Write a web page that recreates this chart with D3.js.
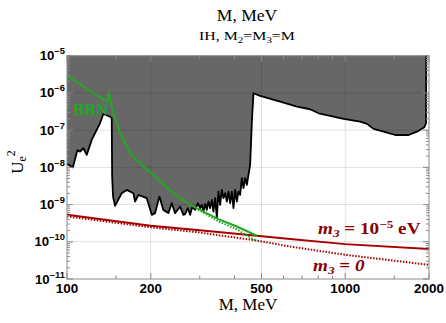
<!DOCTYPE html>
<html>
<head>
<meta charset="utf-8">
<script src="https://d3js.org/d3.v7.min.js"></script>
<style>
  body { margin: 0; background: #fff; }
  svg { display: block; }
</style>
</head>
<body>
<div id="vis"></div>
<script>
// axis ticks
var xTicks = [100, 200, 500, 1000, 2000];
var xMinorTicks = [150, 300, 400, 600, 700, 800, 900, 1500];
var yTicks = [-11, -10, -9, -8, -7, -6, -5]; // exponents of 10

// excluded region, lower boundary (M in MeV, Ue^2)
var exclM = [100, 105, 109, 111.4, 114.5, 117.7, 122.7, 131.4, 135.1, 142.8, 144.8, 145.3, 146.4, 148.8,
  157.3, 163.9, 173.2, 175.7, 180.5, 193.5, 201.7, 207.3, 214.8, 222, 231.4, 238, 244.6, 255, 262,
  265.8, 271.8, 277, 282.3, 288.7, 295.3, 300.9, 305.2, 309.2, 313.6, 318.1, 322.3, 326.9, 331.5,
  336, 340.7, 345.6, 350.1, 355.1, 360.1, 364.9, 370.1, 375.4, 380.4, 385.8, 391.3, 396.5, 402.1,
  407.8, 413.2, 419.1, 425, 430.7, 436.8, 443, 449, 455.2, 462, 468,
  494.6, 583.6, 670.4, 748, 802, 883, 986, 1132, 1197, 1264, 1373, 1513, 1690, 1811, 1924, 1951, 1955];
var exclU = [1.24e-8, 1.0e-8, 2.9e-8, 2.65e-8, 3.27e-8, 2.16e-8, 5.46e-8, 1.53e-7, 2.72e-7, 2.3e-7, 2.08e-7, 5.65e-9, 1.64e-9, 9.2e-10,
  2.02e-9, 2.48e-9, 2.02e-9, 1.2e-9, 1.82e-9, 1.49e-9, 5.3e-10, 5.9e-10, 1.64e-9, 7.2e-10, 5.9e-10, 1.09e-9, 5.9e-10, 8.8e-10, 5.3e-10,
  5.5e-10, 8.0e-10, 5.3e-10, 8.8e-10, 7.2e-10, 1.09e-9, 8.0e-10, 9.8e-10, 6.5e-10, 1.03e-9, 7.2e-10, 1.2e-9, 8.0e-10, 1.34e-9,
  6.5e-10, 1.49e-9, 4.4e-10, 2.23e-9, 9.8e-10, 2.48e-9, 1.49e-9, 2.02e-9, 1.2e-9, 2.23e-9, 1.09e-9, 2.23e-9, 8.0e-10, 2.48e-9,
  1.2e-9, 2.23e-9, 1.82e-9, 5.1e-9, 2.75e-9, 5.1e-9, 3.4e-9, 6.3e-9, 1.16e-8, 1.88e-7, 9.8e-7,
  8.28e-7, 5.82e-7, 4.27e-7, 3.64e-7, 2.84e-7, 2.41e-7, 2.0e-7, 1.69e-7, 1.47e-7, 1.08e-7, 9.1e-8, 7.4e-8, 7.4e-8, 9.1e-8, 1.2e-7, 1.53e-7, 1e-5];

// BBN bound
var bbnM = [100, 139.3, 141, 146.8, 155.1, 168.6, 185.7, 210.2, 241.2, 277, 300.9, 350.1, 407.8, 481.3];
var bbnU = [2.9e-6, 5.7e-7, 1.08e-6, 2.84e-7, 8.3e-8, 2.4e-8, 1.16e-8, 5.1e-9, 2.02e-9, 9.8e-10, 7.2e-10, 4.05e-10, 2.57e-10, 1.45e-10];
var bbnDotM = [290, 301, 350, 408, 466, 481];
var bbnDotU = [8.0e-10, 6.8e-10, 3.54e-10, 2.16e-10, 1.16e-10, 1.08e-10];

// seesaw lines
var m3SmallM = [100, 200, 300, 481, 634, 1000, 2000];
var m3SmallU = [5.3e-10, 2.7e-10, 2.05e-10, 1.45e-10, 1.18e-10, 8.65e-11, 6.35e-11];
var m3ZeroM = [100, 200, 292, 481, 634, 1000, 2000];
var m3ZeroU = [4.8e-10, 2.45e-10, 1.82e-10, 1.08e-10, 7.45e-11, 4.47e-11, 2.4e-11];

var width = 446, height = 323;
var pLeft = 67, pRight = 429, pTop = 55.7, pBottom = 279;
var serif = "'Liberation Serif', 'Times New Roman', serif";
var sans = "'Liberation Sans', Arial, sans-serif";
var red = "#a80000", darkred = "#8a0000", green = "#22a822";

var svg = d3.select("#vis").append("svg")
  .attr("width", width)
  .attr("height", height);

var x = d3.scaleLog().domain([100, 2000]).range([pLeft, pRight]);
var y = d3.scaleLog().domain([1e-11, 1e-5]).range([pBottom, pTop]);

function pts(ms, us) { return ms.map(function (m, i) { return [m, us[i]]; }); }
var line = d3.line().x(function (d) { return x(d[0]); }).y(function (d) { return y(d[1]); });

// text that is a bit wider than the font (the source picture is stretched sideways)
function wideText(px, py, sx) {
  return svg.append("g").attr("transform", "translate(" + px + "," + py + ") scale(" + sx + ",1)")
    .append("text");
}

// excluded region
var excl = pts(exclM, exclU);
var poly = [[100, 1e-5]].concat(excl).concat([[1955, 1e-5]]);
svg.append("path").attr("d", line(poly) + "Z").attr("fill", "#676767");

// grid
var g = svg.append("g").attr("stroke", "rgba(0,0,0,0.12)").attr("stroke-width", 1);
xTicks.slice(1, -1).forEach(function (t) {
  g.append("line").attr("x1", x(t)).attr("x2", x(t)).attr("y1", pTop).attr("y2", pBottom);
});
yTicks.slice(1, -1).forEach(function (e) {
  g.append("line").attr("x1", pLeft).attr("x2", pRight).attr("y1", y(Math.pow(10, e))).attr("y2", y(Math.pow(10, e)));
});

// boundary
svg.append("path").attr("d", line(excl)).attr("fill", "none")
  .attr("stroke", "#000").attr("stroke-width", 1.8).attr("stroke-linejoin", "round");

// seesaw lines
svg.append("path").attr("d", line(pts(m3ZeroM, m3ZeroU))).attr("fill", "none")
  .attr("stroke", red).attr("stroke-width", 2).attr("stroke-dasharray", "1.5,1.5");
svg.append("path").attr("d", line(pts(m3SmallM, m3SmallU))).attr("fill", "none")
  .attr("stroke", red).attr("stroke-width", 2);

// BBN
svg.append("path").attr("d", line(pts(bbnDotM, bbnDotU))).attr("fill", "none")
  .attr("stroke", green).attr("stroke-width", 2).attr("stroke-dasharray", "1.5,1.5");
svg.append("path").attr("d", line(pts(bbnM, bbnU))).attr("fill", "none")
  .attr("stroke", green).attr("stroke-width", 2);

// axes frame and ticks
var ax = svg.append("g").attr("stroke", "#8a8a8a").attr("stroke-width", 1);
ax.append("rect").attr("x", pLeft).attr("y", pTop).attr("width", pRight - pLeft).attr("height", pBottom - pTop)
  .attr("fill", "none").attr("stroke", "#8a8a8a");
xTicks.forEach(function (t) {
  ax.append("line").attr("x1", x(t)).attr("x2", x(t)).attr("y1", pBottom).attr("y2", pBottom - 6);
  ax.append("line").attr("x1", x(t)).attr("x2", x(t)).attr("y1", pTop).attr("y2", pTop + 6);
});
xMinorTicks.forEach(function (t) {
  ax.append("line").attr("x1", x(t)).attr("x2", x(t)).attr("y1", pBottom).attr("y2", pBottom - 3.5);
  ax.append("line").attr("x1", x(t)).attr("x2", x(t)).attr("y1", pTop).attr("y2", pTop + 3.5);
});
y.ticks().forEach(function (t) {
  var major = Math.abs(Math.log10(t) - Math.round(Math.log10(t))) < 1e-6;
  var len = major ? 6 : 3;
  ax.append("line").attr("x1", pLeft).attr("x2", pLeft + len).attr("y1", y(t)).attr("y2", y(t));
  ax.append("line").attr("x1", pRight).attr("x2", pRight - len).attr("y1", y(t)).attr("y2", y(t));
});

// tick labels
xTicks.forEach(function (t) {
  wideText(x(t), 293, 1.12)
    .attr("text-anchor", "middle").attr("font-family", sans).attr("font-weight", "bold")
    .attr("font-size", 12).text(t);
});
yTicks.forEach(function (e) {
  var tx = wideText(65, y(Math.pow(10, e)) + 4.5, 1.1)
    .attr("text-anchor", "end").attr("font-family", sans).attr("font-weight", "bold")
    .attr("font-size", 12);
  tx.append("tspan").text("10");
  tx.append("tspan").attr("dy", -6).attr("font-size", 8.5).text("\u2212" + (-e));
});

// titles
svg.append("text").attr("x", 247).attr("y", 20.5).attr("text-anchor", "middle")
  .attr("font-family", serif).attr("font-size", 17.5).text("M, MeV");
var sub = wideText(247, 40, 1.22).attr("text-anchor", "middle")
  .attr("font-family", serif).attr("font-size", 13);
sub.append("tspan").text("IH, M");
sub.append("tspan").attr("dy", 2.5).attr("font-size", 9).text("2");
sub.append("tspan").attr("dy", -2.5).text("=M");
sub.append("tspan").attr("dy", 2.5).attr("font-size", 9).text("3");
sub.append("tspan").attr("dy", -2.5).text("=M");

svg.append("text").attr("x", 248).attr("y", 309.5).attr("text-anchor", "middle")
  .attr("font-family", serif).attr("font-size", 17).text("M, MeV");

var yl = svg.append("text").attr("transform", "translate(23,162) rotate(-90)")
  .attr("text-anchor", "middle").attr("font-family", serif).attr("font-size", 17);
yl.append("tspan").text("U");
yl.append("tspan").attr("dy", 3).attr("font-size", 12).text("e");
yl.append("tspan").attr("dy", -11).attr("font-size", 12).text("2");

// annotations
svg.append("text").attr("x", 73).attr("y", 115).attr("font-family", serif)
  .attr("font-weight", "bold").attr("font-size", 17).attr("fill", green).text("BBN");

var a1 = wideText(318, 234, 1.2).attr("font-family", serif)
  .attr("font-weight", "bold").attr("font-size", 16).attr("fill", darkred);
a1.append("tspan").attr("font-style", "italic").text("m");
a1.append("tspan").attr("font-style", "italic").attr("dy", 3).attr("font-size", 11).text("3");
a1.append("tspan").attr("dy", -3).text(" =  10");
a1.append("tspan").attr("dy", -6).attr("font-size", 11).text("\u22125");
a1.append("tspan").attr("dy", 6).text(" eV");

var a2 = wideText(313, 271, 1.2).attr("font-family", serif)
  .attr("font-weight", "bold").attr("font-size", 16).attr("fill", darkred);
a2.append("tspan").attr("font-style", "italic").text("m");
a2.append("tspan").attr("font-style", "italic").attr("dy", 3).attr("font-size", 11).text("3");
a2.append("tspan").attr("dy", -3).text(" =   ");
a2.append("tspan").attr("font-style", "italic").text("0");
</script>
</body>
</html>
